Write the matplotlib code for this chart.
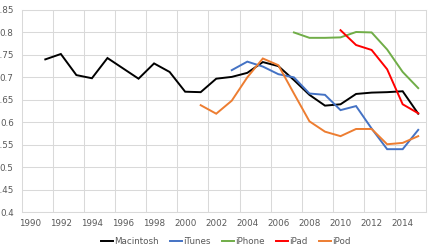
import matplotlib
matplotlib.use("Agg")
import matplotlib.pyplot as plt
import numpy as np

years = list(range(1990, 2016))

mac_years = list(range(1991, 2016))
mac = [0.740, 0.752, 0.705, 0.698, 0.743, 0.720, 0.697, 0.731, 0.712, 0.668,
       0.667, 0.697, 0.701, 0.710, 0.734, 0.725, 0.694, 0.661, 0.637, 0.640,
       0.663, 0.666, 0.667, 0.669, 0.619]

itunes_years = list(range(2003, 2016))
itunes = [0.716, 0.735, 0.724, 0.707, 0.700, 0.664, 0.661, 0.627, 0.636, 0.586,
          0.540, 0.540, 0.583]

iphone_years = list(range(2007, 2016))
iphone = [0.800, 0.788, 0.788, 0.789, 0.801, 0.800, 0.762, 0.712, 0.676]

ipad_years = list(range(2010, 2016))
ipad = [0.805, 0.772, 0.761, 0.718, 0.640, 0.620]

ipod_years = list(range(2001, 2016))
ipod = [0.638, 0.619, 0.648, 0.700, 0.742, 0.727, 0.664, 0.602, 0.579, 0.569,
        0.585, 0.585, 0.551, 0.554, 0.569]

series = [
    ("Macintosh", mac_years, mac, "#000000"),
    ("iTunes", itunes_years, itunes, "#4472C4"),
    ("iPhone", iphone_years, iphone, "#70AD47"),
    ("iPad", ipad_years, ipad, "#FF0000"),
    ("iPod", ipod_years, ipod, "#ED7D31"),
]

fig = plt.figure(figsize=(4.33, 2.48), dpi=100)
ax = fig.add_axes([0.0508, 0.145, 0.9330, 0.8147])

for name, xs, ys, c in series:
    ax.plot(xs, ys, color=c, lw=1.4, label=name, solid_joinstyle="miter")

ax.set_xlim(1989.5, 2015.5)
ax.set_ylim(0.4, 0.85)
ax.set_yticks(np.arange(0.4, 0.851, 0.05))
ax.set_yticklabels(["0.4", "0.45", "0.5", "0.55", "0.6", "0.65", "0.7", "0.75", "0.8", "0.85"])
ax.set_xticks(np.arange(1991.5, 2015, 2), minor=False)
ax.set_xticklabels([])
ax.set_xticks(list(range(1990, 2016, 2)), minor=True)
ax.set_xticklabels([str(y) for y in range(1990, 2016, 2)], minor=True)
ax.tick_params(axis="both", which="both", length=0, labelsize=6.3, labelcolor="#595959")
ax.tick_params(axis="y", pad=6)
ax.tick_params(axis="x", which="minor", pad=5)
ax.grid(True, which="major", color="#D9D9D9", lw=0.75)
ax.set_axisbelow(True)
for s in ax.spines.values():
    s.set_color("#D9D9D9")
    s.set_linewidth(0.75)

ax.legend(loc="center", bbox_to_anchor=(0.505, -0.145), ncol=5, frameon=False,
          fontsize=6.3, labelcolor="#595959", handlelength=1.35, handletextpad=0.15,
          columnspacing=1.3)

fig.savefig("out.png", dpi=100)
